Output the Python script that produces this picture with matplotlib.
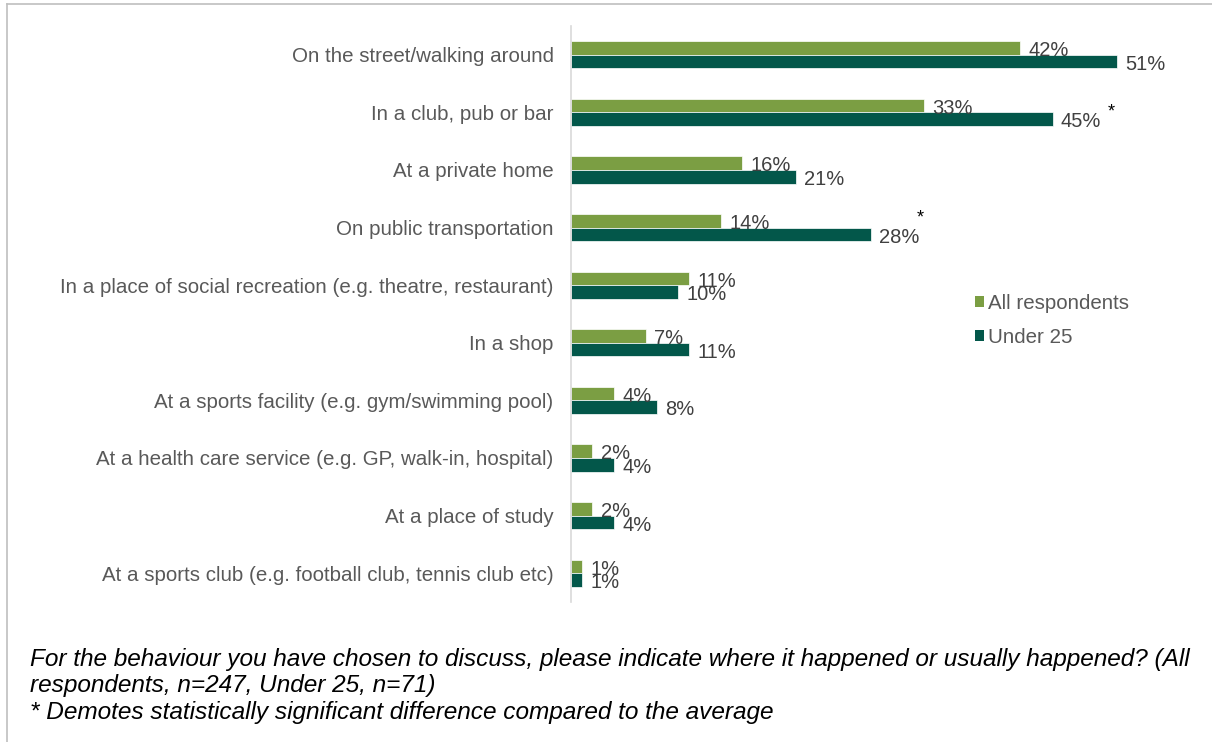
import matplotlib
matplotlib.use("Agg")
import matplotlib.pyplot as plt
from matplotlib.lines import Line2D
from matplotlib.patches import Patch
import numpy as np

plt.rcParams['font.family'] = ['Liberation Sans', 'DejaVu Sans']

categories = [
    "On the street/walking around",
    "In a club, pub or bar",
    "At a private home",
    "On public transportation",
    "In a place of social recreation (e.g. theatre, restaurant)",
    "In a shop",
    "At a sports facility (e.g. gym/swimming pool)",
    "At a health care service (e.g. GP, walk-in, hospital)",
    "At a place of study",
    "At a sports club (e.g. football club, tennis club etc)",
]
all_resp = [42, 33, 16, 14, 11, 7, 4, 2, 2, 1]
under_25 = [51, 45, 21, 28, 10, 11, 8, 4, 4, 1]

green = "#7B9E43"
dark = "#03574A"
label_col = "#595959"
value_col = "#404040"

fig = plt.figure(figsize=(12.12, 7.42), dpi=100)
ax = fig.add_axes([0.4711, 0.1887, 0.4856, 0.7763])

y = np.arange(len(categories))
h = 0.235
ax.barh(y - h / 2, all_resp, height=h, color=green, edgecolor="white", linewidth=0.5)
ax.barh(y + h / 2, under_25, height=h, color=dark, edgecolor="white", linewidth=0.5)

ax.set_ylim(len(categories) - 0.5, -0.5)
ax.set_xlim(0, 55)
ax.set_yticks(y)
ax.set_yticklabels(categories, fontsize=14.8, color=label_col)
ax.tick_params(axis="y", length=0, pad=12.5)
ax.set_xticks([])
for s in ["top", "right", "bottom"]:
    ax.spines[s].set_visible(False)
ax.spines["left"].set_color("#d9d9d9")
ax.spines["left"].set_linewidth(1.2)

for i in range(len(categories)):
    ax.annotate(f"{all_resp[i]}%", (all_resp[i], i - h / 2), xytext=(6, -2),
                textcoords="offset points", va="center", ha="left",
                fontsize=14.5, color=value_col)
    ax.annotate(f"{under_25[i]}%", (under_25[i], i + h / 2), xytext=(6, -2),
                textcoords="offset points", va="center", ha="left",
                fontsize=14.5, color=value_col)

# asterisks for significant differences
ax.annotate("*", (45, 1 + h / 2), xytext=(42, 5), textcoords="offset points",
            va="center", ha="center", fontsize=13, color="black")
ax.annotate("*", (28, 3 + h / 2), xytext=(36, 12), textcoords="offset points",
            va="center", ha="center", fontsize=13, color="black")

handles = [Patch(facecolor=green), Patch(facecolor=dark)]
ax.legend(handles, ["All respondents", "Under 25"], loc="center left",
          bbox_to_anchor=(0.655, 0.489), frameon=False, fontsize=14.8,
          handlelength=0.45, handleheight=0.45, handletextpad=0.2,
          labelspacing=0.7, labelcolor=label_col)

fig.text(0.025, 0.0755,
         "For the behaviour you have chosen to discuss, please indicate where it happened or usually happened? (All\n"
         "respondents, n=247, Under 25, n=71)\n"
         "* Demotes statistically significant difference compared to the average",
         fontsize=17.6, style="italic", color="black", va="center", ha="left",
         linespacing=1.22)

# outer frame lines
fig.add_artist(Line2D([0.006, 1.0], [0.9946, 0.9946], color="#bfbfbf", lw=1.2))
fig.add_artist(Line2D([0.006, 0.006], [0.0, 0.9946], color="#bfbfbf", lw=1.2))

fig.savefig("out.png", dpi=100)
